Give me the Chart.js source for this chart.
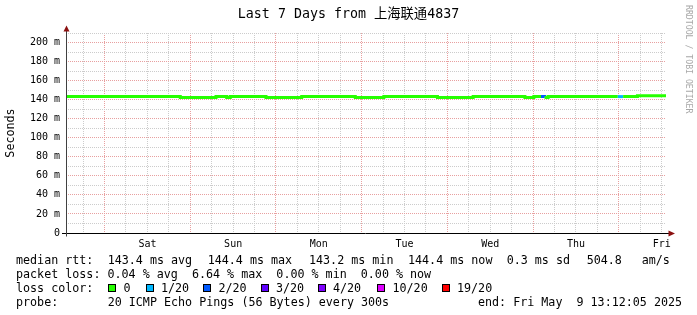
<!DOCTYPE html>
<html>
<head>
<meta charset="utf-8">
<script src="https://cdn.jsdelivr.net/npm/chart.js@4.4.1/dist/chart.umd.min.js"></script>
<style>
  body { margin: 0; background: #fff; }
  #wrap { position: relative; width: 697px; height: 315px; overflow: hidden; background: #fff; }
  canvas { position: absolute; left: 0; top: 0; }
  .lg { position: absolute; font: 11.7px "DejaVu Sans Mono", monospace; line-height: 14px; white-space: pre; color: #000; }
  .box { position: absolute; width: 6px; height: 6px; border: 1px solid #000; }
</style>
</head>
<body>
<div id="wrap">
  <canvas id="chart" width="697" height="315"></canvas>
  <div id="legend"></div>
</div>
<script>
// median rtt, stepped: each value holds until the next time
const timeHours = [0, 32, 42, 45, 46, 56, 66, 81, 89, 104, 114, 128.5, 131, 133, 134, 135, 154.5, 156, 160, 168];
const medianMs = [143.2, 142.3, 143.2, 142.3, 143.2, 142.3, 143.2, 142.3, 143.2, 142.3, 143.2, 142.3, 143.2, 143.2, 142.3, 143.2, 143.2, 143.2, 144.2, 144.2];
const lossCount = [0, 0, 0, 0, 0, 0, 0, 0, 0, 0, 0, 0, 0, 2, 0, 0, 1, 0, 0, 0];

const dayNames = ['Sat', 'Sun', 'Mon', 'Tue', 'Wed', 'Thu', 'Fri'];
const firstMidnight = 10.799; // hours from Fri 13:12:05 to Sat 00:00

const lossLabels = ['0', '1/20', '2/20', '3/20', '4/20', '10/20', '19/20'];
const lossSteps = [0, 1, 2, 3, 4, 10, 19];
const lossColors = ['#26ff00', '#00b8ff', '#0059ff', '#5e00ff', '#7e00ff', '#dd00ff', '#ff0000'];

const rttItems = ['median rtt:', '143.4 ms avg', '144.4 ms max', '143.2 ms min', '144.4 ms now', '0.3 ms sd', '504.8', 'am/s'];
const lossLine = 'packet loss: 0.04 % avg  6.64 % max  0.00 % min  0.00 % now';
const probeText = '20 ICMP Echo Pings (56 Bytes) every 300s';
const endText = 'end: Fri May  9 13:12:05 2025';
const titleText = 'Last 7 Days from 上海联通4837';

const MONO = '"DejaVu Sans Mono", "Noto Sans CJK SC", monospace';
const MAJOR = '#e8a0a0';
const MINOR = '#cccccc';

// legend (html text)
const legend = document.getElementById('legend');
function addText(txt, x, yc) {
    const d = document.createElement('div');
    d.className = 'lg';
    d.textContent = txt;
    d.style.left = x + 'px';
    d.style.top = (yc - 7) + 'px';
    legend.appendChild(d);
}
function addBox(color, x, yc) {
    const b = document.createElement('div');
    b.className = 'box';
    b.style.background = color;
    b.style.left = x + 'px';
    b.style.top = (yc - 4) + 'px';
    legend.appendChild(b);
}
const rttX = [16, 107.7, 207.7, 309, 408, 506.7, 586.7, 641.7];
rttItems.forEach((t, i) => addText(t, rttX[i], 259.5));
addText(lossLine, 16, 273.5);
addText('loss color:', 16, 287.5);
const boxX = [108, 145.5, 203, 260.5, 317.5, 377, 441.5];
lossLabels.forEach((t, i) => {
    addBox(lossColors[i], boxX[i], 287.5);
    addText(t, boxX[i] + 15.5, 287.5);
});
addText('probe:', 16, 301.5);
addText(probeText, 107.7, 301.5);
addText(endText, 478, 301.5);

// axes, arrows, title, side texts
const rrdDecor = {
    id: 'rrdDecor',
    afterDraw: (chart) => {
        const ctx = chart.ctx;
        const a = chart.chartArea;
        const x0 = Math.round(a.left) + 0.5;
        const y0 = Math.round(a.bottom) + 0.5;
        ctx.save();
        ctx.lineWidth = 1;
        ctx.strokeStyle = '#000';
        ctx.beginPath();
        ctx.moveTo(62, y0);
        ctx.lineTo(669, y0);
        ctx.stroke();
        ctx.strokeStyle = '#404040';
        ctx.beginPath();
        ctx.moveTo(x0, y0 + 3);
        ctx.lineTo(x0, 30);
        ctx.stroke();

        ctx.fillStyle = '#8b1010';
        ctx.beginPath();
        ctx.moveTo(x0, 25.5);
        ctx.lineTo(x0 - 3, 31.5);
        ctx.lineTo(x0 + 3, 31.5);
        ctx.closePath();
        ctx.fill();
        ctx.beginPath();
        ctx.moveTo(675, y0);
        ctx.lineTo(668.5, y0 - 3);
        ctx.lineTo(668.5, y0 + 3);
        ctx.closePath();
        ctx.fill();

        ctx.fillStyle = '#000';
        ctx.textAlign = 'center';
        ctx.textBaseline = 'middle';
        ctx.font = '13.3px ' + MONO;
        ctx.fillText(titleText, 348.5, 15);

        ctx.font = '11.7px ' + MONO;
        ctx.translate(11, (a.top + a.bottom) / 2);
        ctx.rotate(-Math.PI / 2);
        ctx.fillText('Seconds', 0, 0);
        ctx.restore();

        ctx.save();
        ctx.fillStyle = '#a8a8a8';
        ctx.font = '8.2px ' + MONO;
        ctx.textAlign = 'left';
        ctx.textBaseline = 'middle';
        ctx.translate(688, 5);
        ctx.rotate(Math.PI / 2);
        ctx.fillText('RRDTOOL / TOBI OETIKER', 0, 0);
        ctx.restore();
    }
};

function tickIndex(h) {
    return Math.round((h - firstMidnight) / 6);
}

const ctx = document.getElementById('chart').getContext('2d');
new Chart(ctx, {
    type: 'line',
    data: {
        datasets: [{
            label: 'median rtt',
            data: timeHours.map((t, i) => ({ x: t, y: medianMs[i] })),
            stepped: true,
            borderWidth: 3,
            borderColor: lossColors[0],
            borderCapStyle: 'butt',
            borderJoinStyle: 'miter',
            pointRadius: 0,
            fill: false,
            segment: {
                borderColor: c => lossColors[lossSteps.indexOf(lossCount[c.p0DataIndex])] || lossColors[0]
            }
        }]
    },
    options: {
        responsive: false,
        animation: false,
        events: [],
        layout: { padding: { left: 0, right: 31, top: 33, bottom: 60 } },
        plugins: { legend: { display: false }, tooltip: { enabled: false }, title: { display: false } },
        scales: {
            x: {
                type: 'linear',
                min: 0,
                max: 168,
                afterBuildTicks: scale => {
                    const ticks = [];
                    for (let h = firstMidnight - 6; h < 168; h += 6) ticks.push({ value: h });
                    scale.ticks = ticks;
                },
                afterFit: scale => { scale.height = 22; },
                grid: {
                    drawTicks: false,
                    lineWidth: 1,
                    color: c => (((tickIndex(c.tick.value) % 4) + 4) % 4 === 0 ? MAJOR : MINOR)
                },
                border: { display: false, dash: [1, 1] },
                ticks: {
                    autoSkip: false,
                    maxRotation: 0,
                    padding: 5,
                    color: '#000',
                    font: { family: MONO, size: 10 },
                    callback: v => {
                        const k = tickIndex(v);
                        return (k >= 0 && k % 4 === 2) ? dayNames[(k - 2) / 4] : '';
                    }
                }
            },
            y: {
                min: 0,
                max: 210,
                afterFit: scale => { scale.width = 66; },
                grid: {
                    drawTicks: false,
                    lineWidth: 1,
                    color: c => (c.tick.value % 20 === 0 ? MAJOR : MINOR)
                },
                border: { display: false, dash: [1, 1] },
                ticks: {
                    stepSize: 10,
                    autoSkip: false,
                    padding: 6,
                    color: '#000',
                    font: { family: MONO, size: 10 },
                    callback: v => (v % 20 === 0 ? (v === 0 ? '0' : v + ' m') : '')
                }
            }
        }
    },
    plugins: [rrdDecor]
});
</script>
</body>
</html>
